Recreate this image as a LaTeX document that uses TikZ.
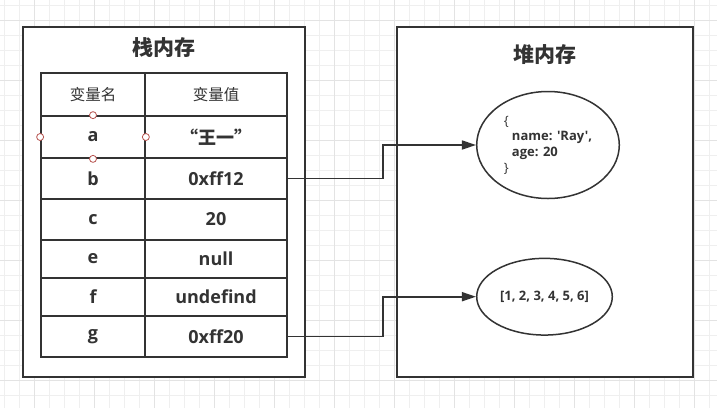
\documentclass[tikz,border=0pt]{standalone}
\usepackage{fontspec}
\setmainfont{Open Sans}[Ligatures=TeXOff]
\newfontfamily\cjk{Noto Sans CJK SC}
\usetikzlibrary{positioning, arrows.meta, shapes.geometric}
\definecolor{ink}{HTML}{333333}
\definecolor{gridminor}{HTML}{EFEFEF}
\definecolor{gridmajor}{HTML}{E3E3E3}
\definecolor{handlered}{HTML}{B85450}

\begin{document}
\begin{tikzpicture}[
        x=1pt, y=-1pt,
        % Estilo para los dos marcos de memoria
        memory/.style={
            draw=ink,
            fill=white,
            line width=1.7pt,
            rectangle,
            inner sep=0pt
        },
        % Estilo para los títulos
        title/.style={text=ink, font=\cjk\fontsize{21}{24}\selectfont\bfseries},
        % Estilo para las celdas de la tabla
        cell/.style={
            draw=ink,
            line width=1.7pt,
            rectangle,
            inner sep=0pt,
            text=ink,
            font=\fontsize{18}{20}\selectfont\bfseries
        },
        headcell/.style={cell, font=\cjk\fontsize{15.5}{18}\selectfont},
        % Estilo para los objetos del heap
        heapobj/.style={
            draw=ink,
            fill=white,
            line width=1.5pt,
            ellipse,
            inner sep=0pt,
            text=ink,
            align=left,
            font=\fontsize{13}{15.7}\selectfont\bfseries
        },
        % Estilo para los puntos de conexión
        handle/.style={draw=handlered, fill=white, line width=0.8pt, circle, inner sep=0pt, minimum size=7pt},
        link/.style={-{Triangle[length=14pt, width=9pt]}, draw=ink, line width=1.7pt}
    ]

    % fondo con cuadrícula
    \useasboundingbox[fill=white] (0,0) rectangle (717,408);
    \foreach \x in {4.3,19.3,...,717}
        \draw[gridminor, line width=0.8pt] (\x,0) -- (\x,408);
    \foreach \y in {5,20,...,408}
        \draw[gridminor, line width=0.8pt] (0,\y) -- (717,\y);
    \foreach \x in {34.3,94.3,...,717}
        \draw[gridmajor, line width=0.8pt] (\x,0) -- (\x,408);
    \foreach \y in {20,80,...,408}
        \draw[gridmajor, line width=0.8pt] (0,\y) -- (717,\y);

    % 1. Marcos: pila y heap
    \node[memory, minimum width=282pt, minimum height=350pt] (stack) at (164,202) {};
    \node[memory, minimum width=296.6pt, minimum height=350pt] (heap) at (545,202) {};
    \node[title] (stacktitle) at (164,48) {栈内存};
    \node[title] (heaptitle) at (545,55) {堆内存};

    % 2. Tabla de variables
    \node[headcell, minimum width=104pt, minimum height=43.3pt] (n-head) at (93,94.35) {变量名};
    \node[headcell, minimum width=142pt, minimum height=43.3pt] (v-head) at (216,94.35) {变量值};
    \foreach \name/\val/\top/\bot in {a/{\cjk “王一”}/116/158, b/0xff12/158/199, c/20/199/240,
            e/null/240/278, f/undefind/278/316, g/0xff20/316/357} {
        \node[cell, minimum width=104pt, minimum height={\bot-\top}] (n-\name) at (93,{(\top+\bot)/2}) {\name};
        \node[cell, minimum width=142pt, minimum height={\bot-\top}] (v-\name) at (216,{(\top+\bot)/2}) {\val};
    }

    % puntos de conexión de la celda a
    \node[handle] (h-north) at (n-a.north) {};
    \node[handle] (h-west) at (n-a.west) {};
    \node[handle] (h-east) at (n-a.east) {};
    \node[handle] (h-south) at (n-a.south) {};

    % 3. Objetos del heap
    \node[heapobj, minimum width=142.6pt, minimum height=107pt] (obj) at (548,145) {
        {\mdseries\{}\\
        \hspace*{8pt}name: 'Ray',\\
        \hspace*{8pt}age: 20\\
        {\mdseries\}}};
    \node[heapobj, minimum width=135.6pt, minimum height=76.7pt] (arr) at (544.5,296.7) {[1, 2, 3, 4, 5, 6]};

    % Flechas: referencias
    \draw[link] (v-b.east) -- ++(95,0) |- (obj.west);
    \draw[link] (v-g.east) -- ++(95,0) |- (arr.west);

\end{tikzpicture}
\end{document}
